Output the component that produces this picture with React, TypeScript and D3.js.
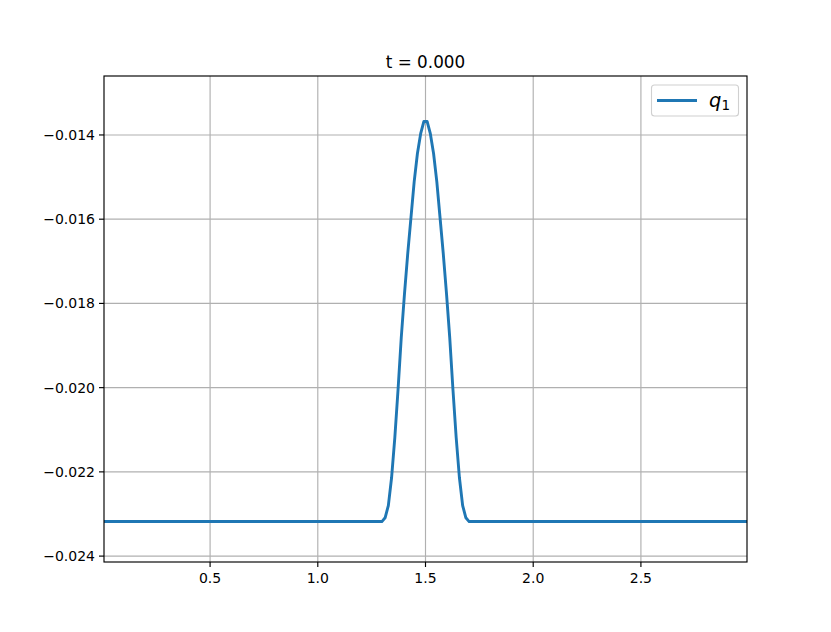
import React from "react";
import * as d3 from "d3";

const xs = [0.0075, 1.2975, 1.3125, 1.3275, 1.3425, 1.3575, 1.3725, 1.3875, 1.4025, 1.4175, 1.4325, 1.4475, 1.4625, 1.4775, 1.4925,
  1.5075, 1.5225, 1.5375, 1.5525, 1.5675, 1.5825, 1.5975, 1.6125, 1.6275, 1.6425, 1.6575, 1.6725, 1.6875, 1.7025, 2.9925];
const q1 = [-0.02318, -0.02318, -0.02309, -0.0228, -0.02214, -0.02119, -0.02005, -0.01881, -0.01777, -0.01682, -0.01596, -0.01511, -0.01444, -0.01397, -0.01368,
  -0.01368, -0.01397, -0.01444, -0.01511, -0.01596, -0.01682, -0.01777, -0.01881, -0.02005, -0.02119, -0.02214, -0.0228, -0.02309, -0.02318, -0.02318];
const xTicks = [0.5, 1.0, 1.5, 2.0, 2.5];
const yTicks = [-0.024, -0.022, -0.02, -0.018, -0.016, -0.014];
const title = "t = 0.000";

export default function App() {
  const W = 831, H = 632;
  const L = 104, R = 747, T = 76, B = 562;
  const x = d3.scaleLinear().domain([0.0075, 2.9925]).range([L, R]);
  const y = d3.scaleLinear().domain([-0.02414, -0.0126]).range([B, T]);
  const line = d3.line<number>().x((_, i) => x(xs[i])).y((d) => y(d));
  const font = "DejaVu Sans";
  return (
    <svg width={W} height={H} style={{ position: "absolute", left: 0, top: 0, background: "#fff" }} fontFamily={font}>
      <rect x={0} y={0} width={W} height={H} fill="#fff" />
      {xTicks.map((t) => (
        <line key={"gx" + t} x1={x(t)} x2={x(t)} y1={T} y2={B} stroke="#b0b0b0" strokeWidth={1.15} />
      ))}
      {yTicks.map((t) => (
        <line key={"gy" + t} x1={L} x2={R} y1={y(t)} y2={y(t)} stroke="#b0b0b0" strokeWidth={1.15} />
      ))}
      <path d={line(q1) || ""} fill="none" stroke="#1f77b4" strokeWidth={2.9} strokeLinejoin="round" />
      <rect x={L} y={T} width={R - L} height={B - T} fill="none" stroke="#000" strokeWidth={1.15} />
      {xTicks.map((t) => (
        <g key={"tx" + t}>
          <line x1={x(t)} x2={x(t)} y1={B} y2={B + 5} stroke="#000" strokeWidth={1.15} />
          <text x={x(t)} y={B + 21} textAnchor="middle" fontSize={14} fill="#000">{t.toFixed(1)}</text>
        </g>
      ))}
      {yTicks.map((t) => (
        <g key={"ty" + t}>
          <line x1={L - 5} x2={L} y1={y(t)} y2={y(t)} stroke="#000" strokeWidth={1.15} />
          <text x={L - 9} y={y(t) + 5} textAnchor="end" fontSize={14} fill="#000">{"\u2212" + Math.abs(t).toFixed(3)}</text>
        </g>
      ))}
      <text x={(L + R) / 2} y={T - 8} textAnchor="middle" fontSize={16.8} fill="#000">{title}</text>
      <g>
        <rect x={651.5} y={85} width={87} height={31} rx={3} fill="#fff" fillOpacity={0.8} stroke="#d0d0d0" strokeWidth={1.1} />
        <line x1={657} x2={697} y1={100.5} y2={100.5} stroke="#1f77b4" strokeWidth={2.9} />
        <text x={709} y={107} fontSize={19.5} fill="#000">
          <tspan fontStyle="italic">q</tspan>
          <tspan fontSize={13.5} dy={3}>1</tspan>
        </text>
      </g>
    </svg>
  );
}
